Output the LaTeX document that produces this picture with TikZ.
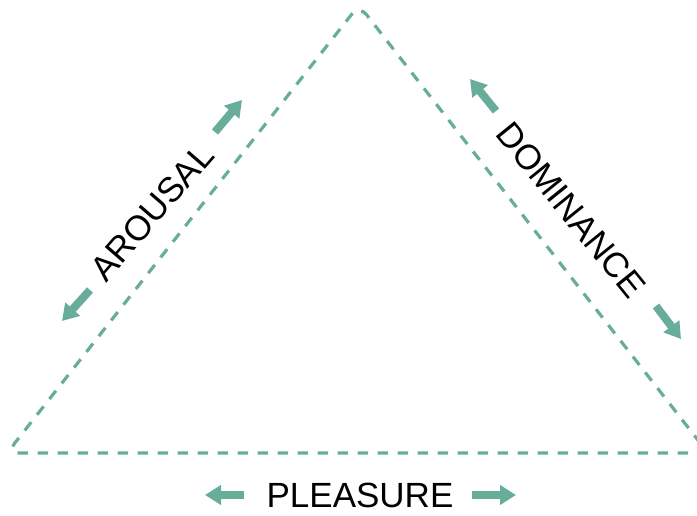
\documentclass[tikz,border=0pt]{standalone}
\usepackage{fontspec}
\setmainfont{Liberation Sans}
\usetikzlibrary{arrows.meta}
\definecolor{teal1}{RGB}{104,172,154}
\tikzset{
  edge/.style={draw=teal1, line width=3.2pt, dash pattern=on 10.5pt off 9.5pt, rounded corners=12pt},
  dirarrow/.style={draw=teal1, line width=8pt, -{Triangle[width=19pt,length=16pt]}},
  lbl/.style={font=\fontsize{35}{40}\selectfont, text=black, inner sep=0pt}
}
\begin{document}
\begin{tikzpicture}[x=1pt,y=1pt]
\useasboundingbox (0,0) rectangle (697,515);
\clip (0,0) rectangle (697,515);
\coordinate (apex) at (359,510);
\coordinate (bl) at (7,62);
\coordinate (br) at (708,62);
\draw[edge] (br) -- (bl) -- (apex) -- (br);
% labels
\node[lbl, anchor=base] (pleasure) at (360,8) {PLEASURE};
\node[lbl, rotate=49] (arousal) at (152,303) {AROUSAL};
\node[lbl, rotate=-51] (dominance) at (571,305) {DOMINANCE};
% arrows
\coordinate (pl1) at (244,20); \coordinate (pl1t) at (205,20);
\coordinate (pr1) at (472,20); \coordinate (pr1t) at (516,20);
\coordinate (au1) at (215,383); \coordinate (au1t) at (242,415);
\coordinate (al1) at (90,225); \coordinate (al1t) at (62,194);
\coordinate (du1) at (496,404); \coordinate (du1t) at (470,436);
\coordinate (dl1) at (656,209); \coordinate (dl1t) at (681,176);
\draw[dirarrow] (pl1) -- (pl1t);
\draw[dirarrow] (pr1) -- (pr1t);
\draw[dirarrow] (au1) -- (au1t);
\draw[dirarrow] (al1) -- (al1t);
\draw[dirarrow] (du1) -- (du1t);
\draw[dirarrow] (dl1) -- (dl1t);
\end{tikzpicture}
\end{document}
